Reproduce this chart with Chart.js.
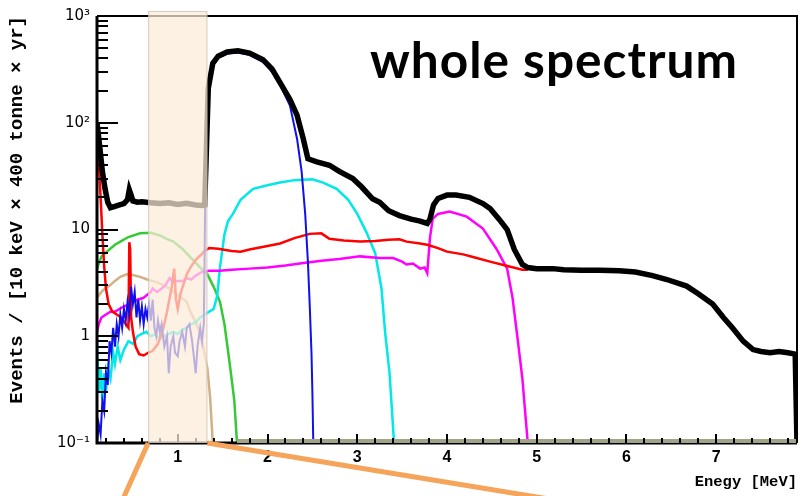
<!DOCTYPE html>
<html>
<head>
<meta charset="utf-8">
<script src="https://cdn.jsdelivr.net/npm/chart.js@4.4.0/dist/chart.umd.min.js"></script>
<style>
  body { margin: 0; background: #fff; }
  canvas { display: block; }
</style>
</head>
<body>
<canvas id="spectrum" width="802" height="496"></canvas>
<script>
// energy [MeV], events per bin
const totalSpec = [[0.1,100],[0.13,60],[0.16,35],[0.19,24],[0.22,18],[0.25,16],[0.3,16.5],[0.35,17],[0.4,17.5],[0.44,19],[0.46,23.5],[0.48,21],[0.5,18.5],[0.55,18],[0.6,18.2],[0.7,17.8],[0.8,17.5],[0.9,17.8],[1.0,17.2],[1.1,17.6],[1.2,17],[1.27,16.8],[1.3,17],[1.32,60],[1.34,210],[1.39,360],[1.45,420],[1.55,460],[1.67,472],[1.8,450],[1.95,390],[2.05,320],[2.14,238],[2.25,165],[2.33,117],[2.4,70],[2.45,46],[2.55,43],[2.69,40],[2.8,35],[2.95,30],[3.05,25],[3.17,19.4],[3.25,18],[3.35,15],[3.47,13.5],[3.6,12.5],[3.7,12],[3.78,11.4],[3.81,12.5],[3.85,17],[3.9,19.5],[4.0,21],[4.1,21],[4.25,20],[4.4,17.5],[4.48,15.7],[4.58,12.5],[4.67,10],[4.75,6.5],[4.84,4.7],[4.9,4.4],[5.0,4.3],[5.18,4.3],[5.3,4.2],[5.5,4.15],[5.7,4.15],[5.92,4.1],[6.1,4.0],[6.29,3.7],[6.45,3.4],[6.67,2.95],[6.8,2.5],[6.96,2.0],[7.08,1.5],[7.18,1.2],[7.3,0.9],[7.41,0.75],[7.5,0.72],[7.6,0.7],[7.7,0.72],[7.8,0.7],[7.88,0.68],[7.9,0.1]];
const blueSpec = [[0.1,0.1],[0.12,0.15],[0.14,0.12],[0.16,0.25],[0.18,0.2],[0.2,0.45],[0.22,0.35],[0.24,0.9],[0.26,0.7],[0.28,1.2],[0.3,0.8],[0.32,1.3],[0.34,1.0],[0.36,1.6],[0.38,1.2],[0.4,1.8],[0.42,1.4],[0.44,2.1],[0.46,1.6],[0.48,2.9],[0.5,2.0],[0.52,2.6],[0.54,1.5],[0.56,2.2],[0.58,1.4],[0.6,1.9],[0.62,1.3],[0.64,1.8],[0.66,1.5],[0.68,2.0],[0.7,1.4],[0.72,2.2],[0.74,1.2],[0.76,1.0],[0.78,1.4],[0.8,1.1],[0.82,1.3],[0.85,0.8],[0.88,1.0],[0.9,0.45],[0.92,0.8],[0.95,1.0],[0.97,0.7],[1.0,0.65],[1.02,0.9],[1.05,1.1],[1.08,0.8],[1.1,1.2],[1.13,1.3],[1.16,0.9],[1.2,0.45],[1.22,0.8],[1.25,1.2],[1.27,0.9],[1.29,1.3],[1.31,40],[1.34,200],[1.39,340],[1.45,405],[1.55,445],[1.67,455],[1.8,430],[1.95,370],[2.05,300],[2.14,225],[2.25,145],[2.33,70],[2.38,35],[2.42,14],[2.45,5],[2.47,2],[2.49,0.7],[2.5,0.3],[2.51,0.1]];
const cyanSpec = [[0.1,0.9],[0.12,0.3],[0.14,0.5],[0.16,0.25],[0.18,0.45],[0.2,0.3],[0.22,0.5],[0.25,0.4],[0.28,0.7],[0.3,0.55],[0.33,0.8],[0.36,0.6],[0.4,0.75],[0.45,0.9],[0.5,0.85],[0.55,1.0],[0.6,1.05],[0.65,1.1],[0.7,1.0],[0.75,1.05],[0.8,0.95],[0.85,1.0],[0.9,1.05],[0.95,1.1],[1.0,1.05],[1.05,1.15],[1.1,1.2],[1.15,1.3],[1.2,1.35],[1.25,1.5],[1.3,1.6],[1.35,1.7],[1.4,1.8],[1.44,2.4],[1.47,4.4],[1.52,9],[1.56,12],[1.615,14],[1.7,19],[1.84,24],[2.0,26],[2.14,27.5],[2.3,29],[2.5,29.6],[2.62,27.5],[2.77,24],[2.9,19],[3.0,14],[3.1,9.5],[3.2,6],[3.27,2.8],[3.31,1.1],[3.36,0.45],[3.41,0.1]];
const redSpec = [[0.1,105],[0.12,45],[0.14,20],[0.16,9],[0.18,4.5],[0.2,2.8],[0.23,2.0],[0.27,1.7],[0.32,1.6],[0.37,1.5],[0.42,1.3],[0.45,1.2],[0.46,7.6],[0.47,6.5],[0.48,1.5],[0.5,1.1],[0.53,0.8],[0.57,0.68],[0.62,0.66],[0.67,0.7],[0.72,0.73],[0.78,0.85],[0.84,1.2],[0.88,1.7],[0.93,2.8],[0.96,4.3],[0.98,2.2],[1.0,1.8],[1.03,2.5],[1.06,3.0],[1.1,3.8],[1.14,4.4],[1.2,5.2],[1.26,5.8],[1.3,6.3],[1.35,6.7],[1.45,6.6],[1.6,6.3],[1.7,6.2],[1.8,6.5],[2.0,7.0],[2.14,7.4],[2.3,8.3],[2.47,9.1],[2.6,9.2],[2.69,8.2],[2.85,7.9],[3.03,7.7],[3.2,7.8],[3.35,8.0],[3.47,8.1],[3.55,7.7],[3.7,7.4],[3.78,7.2],[3.9,6.7],[4.0,6.2],[4.18,5.85],[4.3,5.5],[4.48,5.0],[4.65,4.6],[4.84,4.2],[4.9,4.2]];
const magentaSpec = [[0.1,1.1],[0.12,1.3],[0.15,1.5],[0.2,1.6],[0.25,1.7],[0.3,1.7],[0.35,1.8],[0.4,1.9],[0.47,2.0],[0.55,2.2],[0.62,2.3],[0.7,2.6],[0.72,2.8],[0.77,2.6],[0.82,2.8],[0.86,3.0],[0.91,3.5],[0.95,3.2],[1.0,3.3],[1.06,3.3],[1.1,3.5],[1.15,3.4],[1.2,3.7],[1.27,4.0],[1.35,4.1],[1.47,4.1],[1.6,4.2],[1.8,4.3],[2.0,4.4],[2.2,4.6],[2.36,4.8],[2.6,5.1],[2.8,5.3],[3.03,5.6],[3.25,5.4],[3.4,5.4],[3.5,5.0],[3.55,4.7],[3.62,4.8],[3.7,4.3],[3.75,4.4],[3.78,3.9],[3.81,8.3],[3.84,12.6],[3.9,14],[4.03,14.7],[4.22,13.2],[4.4,10.2],[4.55,6.6],[4.67,4.3],[4.73,2.3],[4.79,0.9],[4.84,0.4],[4.9,0.1]];
const greenSpec = [[0.1,4.3],[0.15,5.6],[0.21,6.2],[0.3,7.2],[0.36,7.7],[0.45,8.5],[0.58,9.2],[0.7,9.3],[0.8,8.8],[0.9,8.0],[0.95,7.7],[1.05,6.6],[1.15,5.4],[1.25,4.4],[1.33,3.8],[1.4,2.9],[1.47,2.1],[1.52,1.3],[1.56,0.73],[1.6,0.4],[1.63,0.25],[1.66,0.1]];
const tanSpec = [[0.1,2.3],[0.15,2.6],[0.2,2.85],[0.245,3.0],[0.3,3.3],[0.36,3.6],[0.43,3.8],[0.5,3.75],[0.58,3.6],[0.66,3.4],[0.77,3.2],[0.88,2.9],[0.98,2.5],[1.1,2.1],[1.14,1.7],[1.2,1.35],[1.25,1.05],[1.29,0.75],[1.33,0.5],[1.36,0.27],[1.39,0.1]];

const energyTicks = [1, 2, 3, 4, 5, 6, 7];
const yTicks = [0.1, 1, 10, 100, 1000];
const yTickLabels = ['10⁻¹', '1', '10', '10²', '10³'];
const window1 = [0.67, 1.33];   // highlighted energy window

const pts = arr => arr.map(([x, y]) => ({ x, y }));
const line = (data, color, width) => ({
  data: pts(data), borderColor: color, borderWidth: width,
  pointRadius: 0, tension: 0, fill: false
});

// frame, inward tick marks, window band, connectors and the caption
const decorations = {
  id: 'decorations',
  afterDatasetsDraw(chart) {
    const { ctx, chartArea: a, scales: { x, y } } = chart;
    ctx.save();

    // frame
    ctx.strokeStyle = '#000';
    ctx.lineWidth = 2;
    ctx.beginPath();
    ctx.moveTo(a.left, a.top); ctx.lineTo(a.right, a.top); ctx.lineTo(a.right, a.bottom);
    ctx.stroke();
    ctx.lineWidth = 3;
    ctx.beginPath();
    ctx.moveTo(a.left, a.top); ctx.lineTo(a.left, a.bottom); ctx.lineTo(a.right, a.bottom);
    ctx.stroke();
    // flat zero-level histograms along the floor
    ctx.strokeStyle = '#a2a488';
    ctx.lineWidth = 4;
    ctx.beginPath();
    ctx.moveTo(x.getPixelForValue(1.66), a.bottom - 2);
    ctx.lineTo(a.right - 1, a.bottom - 2);
    ctx.stroke();

    // y ticks
    ctx.strokeStyle = '#000';
    ctx.lineWidth = 2;
    for (let d = -1; d <= 2; d++) {
      for (let m = 1; m <= 9; m++) {
        const py = Math.round(y.getPixelForValue(m * Math.pow(10, d)));
        const len = m === 1 ? 21 : 11;
        ctx.beginPath(); ctx.moveTo(a.left, py); ctx.lineTo(a.left + len, py); ctx.stroke();
      }
    }
    // x ticks
    for (let e = 0.2; e < 7.9; e += 0.2) {
      const v = Math.round(e * 10) / 10;
      const px = Math.round(x.getPixelForValue(v));
      const major = Math.abs(v - Math.round(v)) < 1e-6;
      ctx.beginPath(); ctx.moveTo(px, a.bottom); ctx.lineTo(px, a.bottom - (major ? 9 : 5)); ctx.stroke();
    }

    // energy window band
    const bx0 = x.getPixelForValue(window1[0]);
    const bx1 = x.getPixelForValue(window1[1]);
    ctx.fillStyle = 'rgba(252,236,217,0.72)';
    ctx.fillRect(bx0, a.top - 5, bx1 - bx0, a.bottom - a.top + 5);
    ctx.strokeStyle = 'rgba(190,180,168,0.6)';
    ctx.lineWidth = 1;
    ctx.strokeRect(bx0 + 0.5, a.top - 4.5, bx1 - bx0 - 1, a.bottom - a.top + 4);

    // connectors to the zoomed view
    ctx.strokeStyle = '#f5a45a';
    ctx.lineWidth = 5;
    ctx.beginPath();
    ctx.moveTo(bx0, a.bottom); ctx.lineTo(bx0 - 27, a.bottom + 60);
    ctx.moveTo(bx1, a.bottom); ctx.lineTo(bx1 + 366, a.bottom + 60);
    ctx.stroke();

    // caption, sized to span 367 px
    const txt = 'whole spectrum';
    const gap = 1;
    ctx.font = 'bold 44px Lato';
    const size = 44 * (367 - 13 * gap) / ctx.measureText(txt).width;
    ctx.font = 'bold ' + size.toFixed(1) + 'px Lato';
    if ('letterSpacing' in ctx) ctx.letterSpacing = gap + 'px';
    ctx.fillStyle = '#000';
    ctx.textBaseline = 'alphabetic';
    ctx.textAlign = 'left';
    ctx.fillText(txt, 370, 78);
    ctx.restore();
  }
};

new Chart(document.getElementById('spectrum').getContext('2d'), {
  type: 'line',
  data: {
    datasets: [
      line(totalSpec, '#000000', 5.5),
      line(blueSpec, '#1010ee', 2),
      line(redSpec, '#ff0000', 2.5),
      line(magentaSpec, '#ff00ff', 2.5),
      line(cyanSpec, '#00e8e8', 2.5),
      line(greenSpec, '#36c936', 2.5),
      line(tanSpec, '#d2b084', 2.5)
    ]
  },
  options: {
    responsive: false,
    animation: false,
    layout: { padding: { top: 13, right: 5, left: 0, bottom: 0 } },
    plugins: { legend: { display: false }, tooltip: { enabled: false } },
    scales: {
      x: {
        type: 'linear',
        min: 0.1,
        max: 7.9,
        afterBuildTicks: s => { s.ticks = energyTicks.map(v => ({ value: v })); },
        afterFit: s => { s.height = 53; },
        grid: { display: false, drawTicks: false },
        border: { display: false },
        ticks: {
          color: '#000',
          padding: 5,
          maxRotation: 0,
          font: { family: 'Liberation Sans', weight: 'bold', size: 16 },
          callback: (v, i) => String(energyTicks[i])
        },
        title: {
          display: true,
          text: 'Enegy [MeV]',
          align: 'end',
          color: '#000',
          padding: { top: 0, bottom: 5 },
          font: { family: 'Liberation Mono', weight: 'bold', size: 15.5 }
        }
      },
      y: {
        type: 'logarithmic',
        min: 0.1,
        max: 1000,
        afterBuildTicks: s => { s.ticks = yTicks.map(v => ({ value: v })); },
        afterFit: s => { s.width = 97; },
        grid: { display: false, drawTicks: false },
        border: { display: false },
        ticks: {
          color: '#000',
          padding: 7,
          font: { family: 'DejaVu Sans', size: 15 },
          callback: (v, i) => yTickLabels[i]
        },
        title: {
          display: true,
          text: 'Events / [10 keV × 400 tonne × yr]',
          align: 'end',
          color: '#000',
          padding: { top: 6, bottom: 0 },
          font: { family: 'Liberation Mono', weight: 'bold', size: 19 }
        }
      }
    }
  },
  plugins: [decorations]
});
</script>
</body>
</html>
